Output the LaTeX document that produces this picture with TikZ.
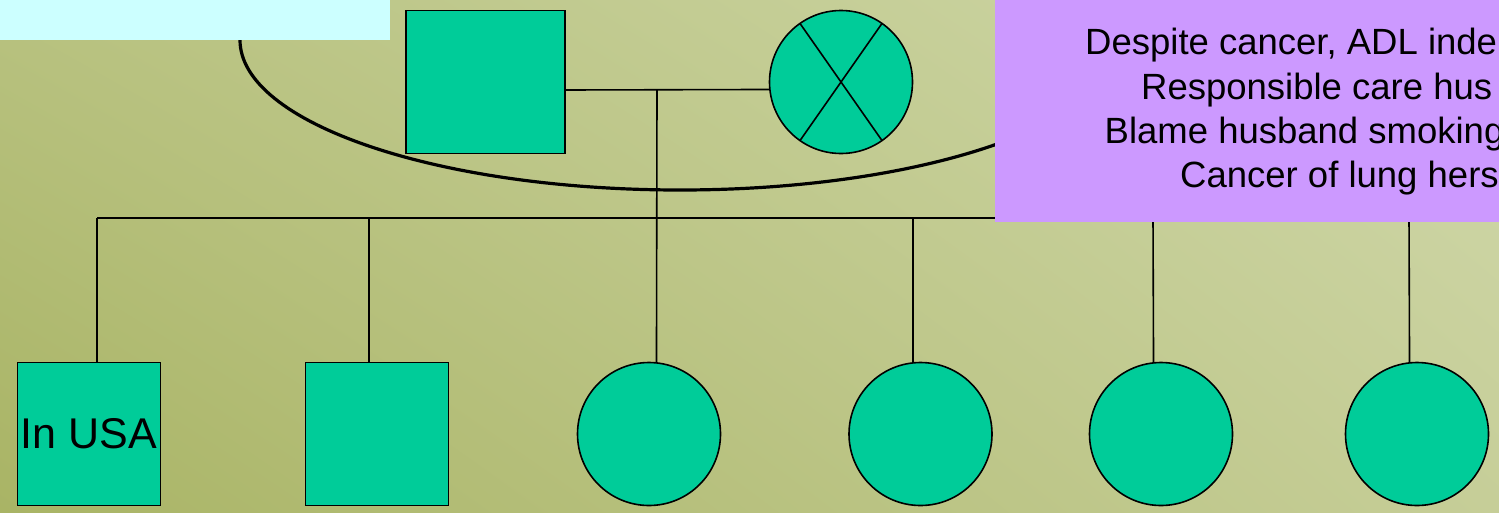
\documentclass[tikz,border=0pt]{standalone}
\usepackage{fontspec}
\setmainfont{Liberation Sans}
\usetikzlibrary{shadings}
\definecolor{fillg}{HTML}{00CC99}
\definecolor{cyanbox}{HTML}{CCFFFF}
\definecolor{purplebox}{HTML}{CC99FF}
\definecolor{bgll}{RGB}{169,180,101}
\definecolor{bgul}{RGB}{184,194,128}
\definecolor{bglr}{RGB}{198,206,152}
\definecolor{bgur}{RGB}{208,216,170}
\begin{document}
\begin{tikzpicture}[x=1pt,y=-1pt,
  thinline/.style={line width=1.6pt},
  male/.style={draw, line width=1.6pt, fill=fillg, minimum width=143pt, minimum height=143pt, inner sep=0pt, outer sep=0pt},
  female/.style={draw, circle, line width=1.6pt, fill=fillg, minimum size=143pt, inner sep=0pt, outer sep=0pt},
  notetext/.style={anchor=base west, inner sep=0pt, font=\fontsize{36.5}{44}\selectfont}]
\useasboundingbox (0,0) rectangle (1499,512);
\clip (0,0) rectangle (1499,512);
\shade[lower left=bgll, upper left=bgul, lower right=bglr, upper right=bgur] (0,0) rectangle (1499,512);

% big arc
\draw[line width=3.2pt] (240,40) arc[start angle=180, end angle=360, x radius=440pt, y radius=150pt];

% parents
\node[male, minimum width=159pt] (father) at (485.5,82) {};
\node[female] (mother) at (841,82) {};
\draw[thinline] (mother.125) -- (mother.-55);
\draw[thinline] (mother.55) -- (mother.235);

% children
\node[male] (c1) at (89,434) {\fontsize{43}{50}\selectfont In USA};
\node[male] (c2) at (377,434) {};
\node[female] (c3) at (649,434) {};
\node[female] (c4) at (920.5,434) {};
\node[female] (c5) at (1161,434) {};
\node[female] (c6) at (1417,434) {};

% connectors
\coordinate (mid) at (657,90);
\coordinate (d1) at (97,218);
\coordinate (d2) at (369,218);
\coordinate (d4) at (913,218);
\coordinate (d5) at (1153,218);
\coordinate (d6) at (1409,218);
\draw[thinline] (father.east |- mid) -- (mother.186);
\draw[thinline] (mid) -- (c3.84);
\draw[thinline] (d1) -- (d6);
\draw[thinline] (d1) -- (c1.north -| d1);
\draw[thinline] (d2) -- (c2.north -| d2);
\draw[thinline] (d4) -- (c4.96);
\draw[thinline] (d5) -- (c5.96);
\draw[thinline] (d6) -- (c6.96);

% boxes
\node[fill=cyanbox, minimum width=390pt, minimum height=40pt, inner sep=0pt, outer sep=0pt, anchor=north west] (header) at (0,0) {};
\node[fill=purplebox, minimum width=520pt, minimum height=222pt, inner sep=0pt, outer sep=0pt, anchor=north west] (note) at (995,0) {};
\node[notetext] (t1) at (1085,54) {Despite cancer, ADL inde};
\node[notetext] (t2) at (1141,99) {Responsible care hus};
\node[notetext] (t3) at (1104.5,143) {Blame husband smoking};
\node[notetext] (t4) at (1180,187) {Cancer of lung hers};
\end{tikzpicture}
\end{document}
